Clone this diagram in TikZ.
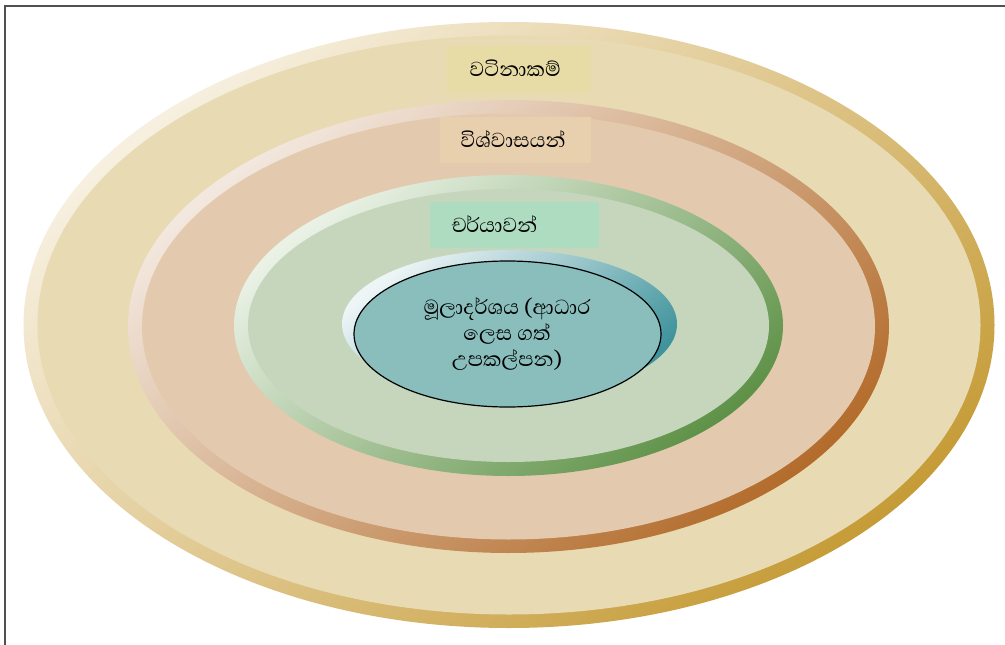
\documentclass[tikz,border=0pt]{standalone}
\usepackage{fontspec}
\newfontfamily\sinhala[Script=Sinhala]{Abhaya Libre}
\usetikzlibrary{shapes.geometric}
\definecolor{ofill}{HTML}{E8DBB3}
\definecolor{oringA}{HTML}{F7F0E0}
\definecolor{oringB}{HTML}{C69C38}
\definecolor{sfill}{HTML}{E3CAAF}
\definecolor{sringA}{HTML}{F3E8DF}
\definecolor{sringB}{HTML}{B36C2C}
\definecolor{tfill}{HTML}{C6D6BD}
\definecolor{tringA}{HTML}{EAF2E6}
\definecolor{tringB}{HTML}{5F9248}
\definecolor{ishA}{HTML}{EEF5F7}
\definecolor{ishB}{HTML}{3F939C}
\definecolor{ifill}{HTML}{89BEBC}
\definecolor{labA}{HTML}{E8DCA6}
\definecolor{labB}{HTML}{E8CFAE}
\definecolor{labC}{HTML}{AEDCC0}
\definecolor{frame}{HTML}{505050}
\begin{document}
\begin{tikzpicture}[x=1pt,y=-1pt,
  oval/.style={ellipse,inner sep=0pt,outer sep=0pt},
  ring/.style 2 args={oval,top color=#1,bottom color=#2,shading angle=40},
  lab/.style={inner sep=0pt,outer sep=0pt,anchor=north west,minimum height=#1},
  txt/.style={font=\sinhala\fontsize{26}{26}\selectfont,text=black}]
\useasboundingbox (0,0) rectangle (1005,645);
\fill[white] (0,0) rectangle (1005,645);
\coordinate (tl) at (5,6);
\coordinate (tr) at (1005,6);
\coordinate (bl) at (5,645);
\draw[frame,line width=1.3pt] (tr) -- (tl) -- (bl);
% outer
\node[ring={oringA}{oringB},minimum width=971,minimum height=606] (o1) at (509,325) {};
\node[oval,fill=ofill,minimum width=943,minimum height=579] (o2) at (509,325) {};
% second
\node[ring={sringA}{sringB},minimum width=761,minimum height=453] (s1) at (508.5,326.5) {};
\node[oval,fill=sfill,minimum width=733,minimum height=426] (s2) at (508.5,326.5) {};
% third
\node[ring={tringA}{tringB},minimum width=549,minimum height=301] (t1) at (508.5,325.5) {};
\node[oval,fill=tfill,minimum width=521,minimum height=273] (t2) at (508.5,325.5) {};
% inner
\node[ring={ishA}{ishB},minimum width=335,minimum height=148] (i1) at (509.5,324) {};
\node[oval,fill=ifill,draw=black,line width=1.2pt,minimum width=307,minimum height=146] (i2) at (507.5,334) {};
\node[txt,align=center] (itxt) at (507,334) {මූලාදර්ශය (ආධාර\\ලෙස ගත්\\උපකල්පන)};
% labels
\node[lab=47,fill=labA,minimum width=144] (l1) at (447,46) {};
\node[txt,anchor=west] (l1t) at ([xshift=19pt,yshift=1pt]l1.west) {වටිනාකම්};
\node[lab=46,fill=labB,minimum width=151] (l2) at (440,117) {};
\node[txt,anchor=west] (l2t) at ([xshift=17pt,yshift=1pt]l2.west) {විශ්වාසයන්};
\node[lab=46,fill=labC,minimum width=169] (l3) at (430,202) {};
\node[txt,anchor=west] (l3t) at ([xshift=18pt,yshift=1pt]l3.west) {චර්යාවන්};
\end{tikzpicture}
\end{document}
